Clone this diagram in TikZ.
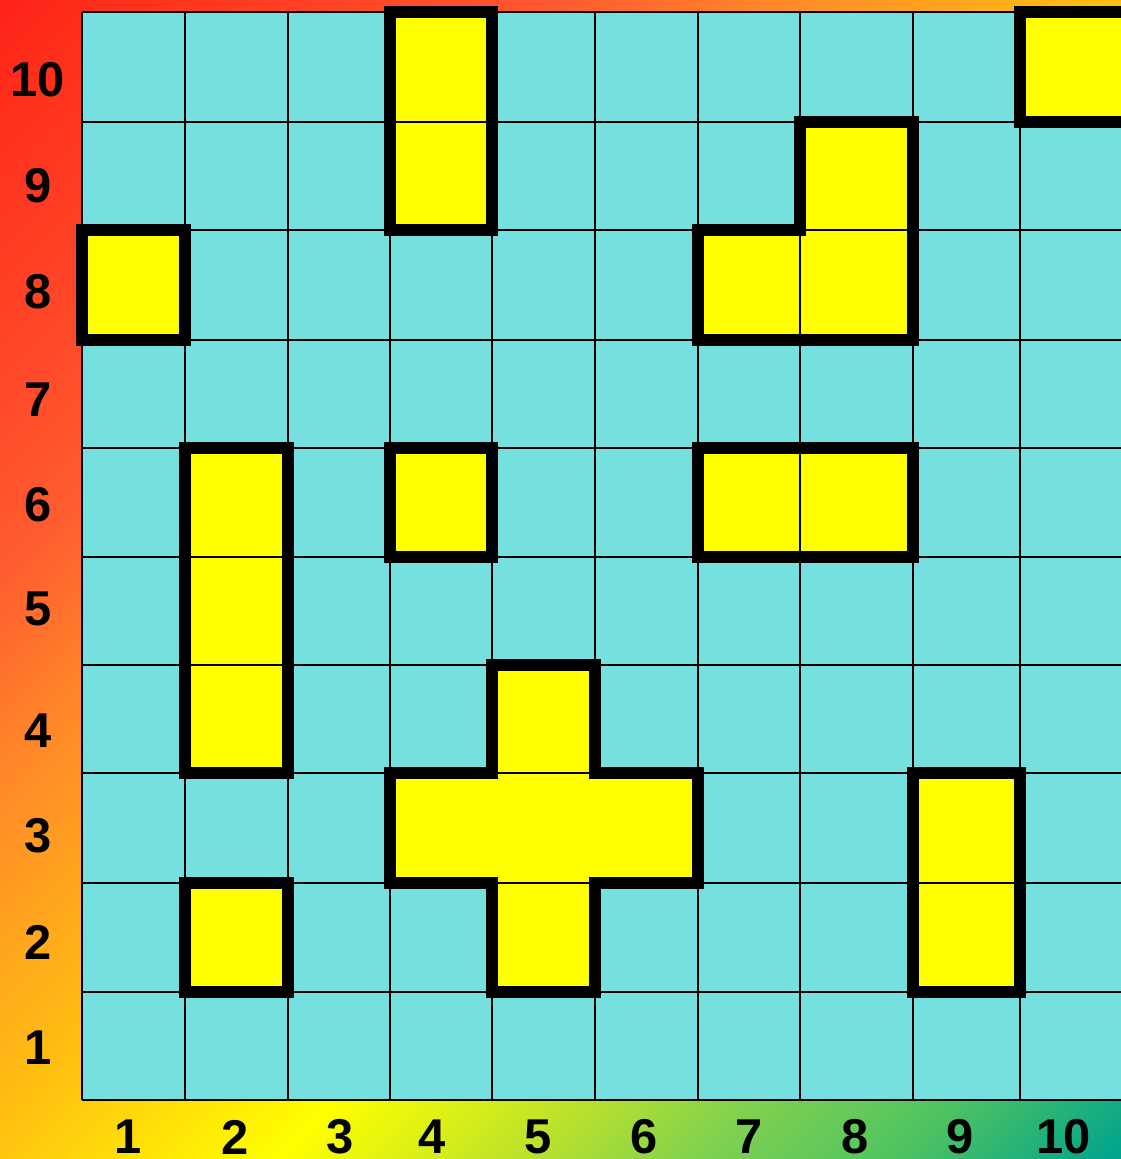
\documentclass[tikz,border=0pt]{standalone}
\usepackage{fontspec}
\setmainfont{Liberation Sans}
\usetikzlibrary{calc}
\definecolor{cellcyan}{HTML}{76DFDF}
\definecolor{pieceyellow}{HTML}{FFFF00}
\pgfdeclarehorizontalshading{bggrad}{100bp}{rgb(0bp)=(1,0.141,0.094);
  rgb(14.64bp)=(1,0.141,0.094); rgb(32bp)=(1,0.353,0.188);
  rgb(39.4bp)=(1,0.549,0.157); rgb(50bp)=(1,0.765,0.063);
  rgb(59.2bp)=(1,1,0); rgb(66.3bp)=(0.753,0.894,0.157);
  rgb(72.6bp)=(0.494,0.816,0.314); rgb(78.3bp)=(0.314,0.769,0.376);
  rgb(85.36bp)=(0,0.643,0.557); rgb(100bp)=(0,0.643,0.557)}

\begin{document}
\begin{tikzpicture}[
  x=0.01cm, y=-0.01cm,
  gridline/.style={black, line width=0.65pt},
  piece/.style={fill=pieceyellow},
  piecebdr/.style={black, line width=3.2pt, line join=miter},
  lbl/.style={font=\fontsize{13.9}{14}\selectfont\bfseries, inner sep=0pt},
  pieces/.style={insert path={
    (c3|-r8) rectangle (c4|-r10)
    (c9|-r9) rectangle (c10|-r10)
    (c0|-r7) rectangle (c1|-r8)
    (c6|-r7) -- (c8|-r7) -- (c8|-r9) -- (c7|-r9) -- (c7|-r8) -- (c6|-r8) -- cycle
    (c1|-r3) rectangle (c2|-r6)
    (c3|-r5) rectangle (c4|-r6)
    (c6|-r5) rectangle (c8|-r6)
    (c4|-r1) -- (c5|-r1) -- (c5|-r2) -- (c6|-r2) -- (c6|-r3) -- (c5|-r3)
      -- (c5|-r4) -- (c4|-r4) -- (c4|-r3) -- (c3|-r3) -- (c3|-r2) -- (c4|-r2) -- cycle
    (c1|-r1) rectangle (c2|-r2)
    (c8|-r1) rectangle (c9|-r3)
  }}
]
\useasboundingbox (0,0) rectangle (1121,1159);
\shade[shading=bggrad, shading angle=-45] (0,0) rectangle (1121,1159);

% edges of the columns and rows
\foreach \xv [count=\i from 0] in {82,185,288,390,492,595,698,800,913,1020,1127}
  \coordinate (c\i) at (\xv,0);
\foreach \yv [count=\j from 0] in {1100,992,883,773,665,557,448,340,230,122,12}
  \coordinate (r\j) at (0,\yv);

\fill[cellcyan] (c0|-r0) rectangle (c10|-r10);
\fill[piece] [pieces];

\foreach \i in {0,...,10} {
  \draw[gridline] (c\i|-r0) -- (c\i|-r10);
  \draw[gridline] (c0|-r\i) -- (c10|-r\i);
}
% middle bar of the cross has no inner lines
\fill[piece] ($(c3|-r2)+(0,-2)$) rectangle ($(c6|-r3)+(0,2)$);

\draw[piecebdr] [pieces];

% axis numbers
\foreach \yv [count=\j] in {1048,942,836,731,609,505,400,292,186,80}
  \node[lbl] (row\j) at (38,\yv) {\j};
\foreach \xv [count=\i] in {128,235,340,432,538,644,749,855,960,1064}
  \node[lbl] (col\i) at (\xv,1137) {\i};
\end{tikzpicture}
\end{document}
